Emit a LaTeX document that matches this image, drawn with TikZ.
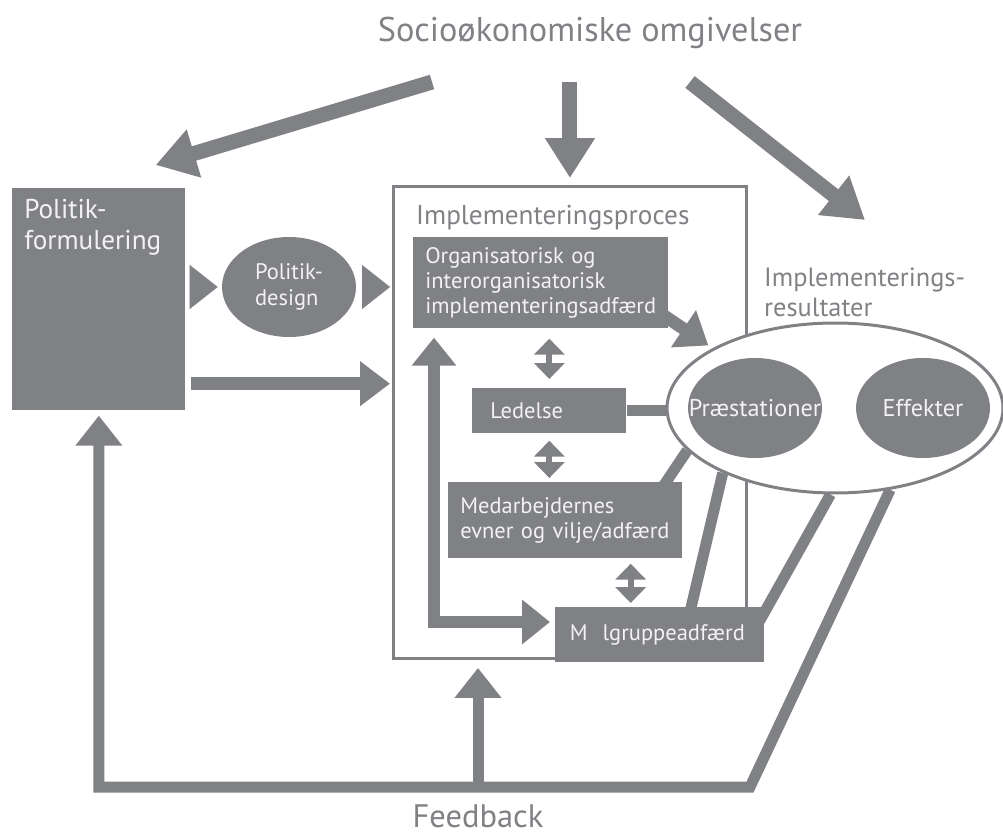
\documentclass[tikz,border=0pt]{standalone}
\usepackage{fontspec}
\setmainfont{PT Sans}
\usetikzlibrary{positioning,arrows.meta,shapes.geometric}
\definecolor{dgray}{HTML}{808185}
\definecolor{ltext}{HTML}{F2F2F2}

\begin{document}
\begin{tikzpicture}[x=0.02cm,y=-0.02cm,
  font=\fontsize{12.8}{14.4}\selectfont,
  darkbox/.style={fill=dgray,text=ltext,align=left,anchor=north west,inner sep=0pt,inner xsep=0.24cm},
  darkoval/.style={ellipse,fill=dgray,text=ltext,minimum width=2.68cm,minimum height=2cm,inner sep=0pt},
  outtext/.style={text=dgray,align=left,font=\fontsize{15}{17}\selectfont},
  fat/.style={draw=dgray,line width=0.3cm,-{Triangle[width=0.95cm,length=0.8cm]}},
  arr/.style={draw=dgray,line width=0.25cm,-{Triangle[width=0.86cm,length=0.6cm]}},
  headonly/.style={draw=dgray,line width=0.1pt,-{Triangle[width=0.88cm,length=0.56cm]}},
  twoway/.style={draw=dgray,line width=0.12cm,{Triangle[width=0.6cm,length=0.32cm]}-{Triangle[width=0.6cm,length=0.32cm]}},
  innerfb/.style={draw=dgray,line width=0.24cm,line join=miter,{Triangle[width=0.86cm,length=0.56cm]}-{Triangle[width=0.86cm,length=0.56cm]}},
  feed/.style={draw=dgray,line width=0.22cm,line join=miter,-{Triangle[width=0.9cm,length=0.6cm]}},
  link/.style={draw=dgray,line width=0.22cm}
]
\useasboundingbox (0,0) rectangle (1003,837);
\node[outtext,font=\fontsize{19.5}{22}\selectfont] (soc) at (590,33) {Socioøkonomiske omgivelser};
\node[darkbox,minimum width=3.46cm,minimum height=4.44cm,inner ysep=0.2cm,font=\fontsize{15.5}{17.5}\selectfont] (pf) at (12,188) {\parbox[t][4cm][t]{2.98cm}{Politik-\\formulering}};
\node[darkoval,align=left] (pd) at (289,287) {Politik-\\design};
\node[draw=dgray,line width=0.06cm,minimum width=7.06cm,minimum height=9.44cm,anchor=north west] (impl) at (392,185) {};
\node[outtext,anchor=north west,font=\fontsize{15.5}{17}\selectfont] (ipt) at (410,199) {Implementeringsproces};
\node[darkbox,text width=4.62cm,minimum height=1.82cm] (org) at (413,237) {Organisatorisk og\\interorganisatorisk\\implementeringsadfærd};
\node[darkbox,text width=2.36cm,inner xsep=0.36cm,minimum height=0.9cm] (led) at (472,388) {Ledelse};
\node[darkbox,text width=4.2cm,minimum height=1.52cm] (med) at (448,482) {Medarbejdernes\\evner og vilje/adfærd};
\node[darkbox,text width=3.6cm,inner xsep=0.29cm,minimum height=1.1cm] (mal) at (555,607) {M\hspace{0.3cm}lgruppeadfærd};
\node[ellipse,draw=dgray,fill=white,line width=0.06cm,minimum width=6.72cm,minimum height=3.4cm,inner sep=0pt] (res) at (835,408) {};
\node[darkoval,font=\fontsize{13.8}{15}\selectfont,inner xsep=-14pt] (pr) at (755,408) {Præstationer};
\node[darkoval,font=\fontsize{13.8}{15}\selectfont] (eff) at (923,408) {Effekter};
\node[outtext,anchor=north west] (rl) at (758,262) {Implementerings-\\resultater};
\node[outtext,font=\fontsize{18.5}{21}\selectfont] (fb) at (478,816) {Feedback};
\coordinate (socl) at (432,82);
\coordinate (socr) at (690,82);
\coordinate (resarr) at (865,220);
\coordinate (loopc) at (434,622);
\coordinate (fbc) at (750,787);
\draw[fat] (socl) -- ([shift={(-30,-23)}]pf.north east);
\draw[fat,shorten >=0.14cm] (impl.north |- socl) -- (impl.north);
\draw[fat] (socr) -- (resarr);
\draw[headonly,shorten >=0.08cm] ([xshift=0.1cm]pf.east |- pd) -- (pd.west);
\draw[headonly,shorten >=0.04cm] ([xshift=0.14cm]pd.east) -- (pd.east -| impl.west);
\draw[arr,shorten >=0.04cm] ([shift={(0.1cm,0.54cm)}]pf.south east) -- ([yshift=0.54cm]pf.south east -| impl.west);
\draw[arr,shorten >=0.1cm] ([shift={(-0.24cm,0.36cm)}]org.south east) -- (res.154);
\draw[twoway,shorten <=0.2cm,shorten >=0.18cm] (led.north |- org.south) -- (led.north);
\draw[twoway,shorten <=0.14cm,shorten >=0.08cm] (led.south) -- (led.south |- med.north);
\draw[twoway,shorten <=0.1cm,shorten >=0.08cm] ([xshift=-1.04cm]med.south east) -- ([xshift=-1.04cm]med.south east |- mal.north);
\draw[innerfb,shorten <=0.18cm,shorten >=0.1cm] (org.south -| loopc) -- (loopc) -- (loopc -| mal.west);
\draw[link] (led.east) -- (led.east -| res.west);
\draw[link] ([shift={(-0.44cm,-0.16cm)}]med.north east) -- (res.-164);
\draw[link] ([shift={(2.7cm,-0.1cm)}]mal.north west) -- (res.-150);
\draw[link] ([shift={(-0.1cm,0.28cm)}]mal.east) -- (res.-93);
\draw[feed,shorten >=0.1cm] (res.-56) -- (fbc) -- (fbc -| pf.south) -- (pf.south);
\draw[feed,shorten >=0.16cm] (fb.north |- fbc) -- (fb.north |- impl.south);
\end{tikzpicture}
\end{document}
